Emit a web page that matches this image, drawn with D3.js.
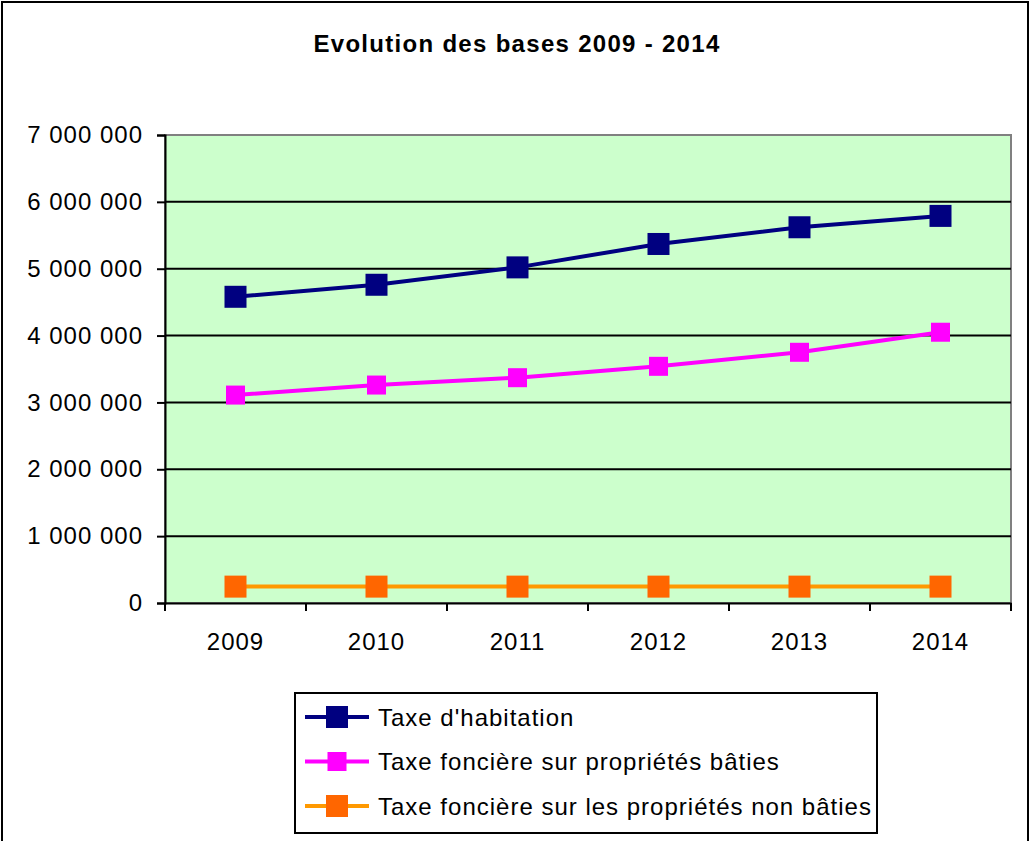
<!DOCTYPE html>
<html>
<head>
<meta charset="utf-8">
<script src="https://cdn.jsdelivr.net/npm/d3@7"></script>
<style>
  body { margin: 0; background: #fff; }
  text { font-family: Arial, "Liberation Sans", sans-serif; }
</style>
</head>
<body>
<div id="chart"></div>
<script>
var years = ["2009", "2010", "2011", "2012", "2013", "2014"];
var habitation = [4580000, 4760000, 5020000, 5370000, 5620000, 5790000];
var foncierBati = [3110000, 3260000, 3370000, 3540000, 3750000, 4050000];
var foncierNonBati = [245000, 245000, 245000, 245000, 245000, 245000];
var yTicks = [0, 1000000, 2000000, 3000000, 4000000, 5000000, 6000000, 7000000];
var seriesNames = ["Taxe d'habitation", "Taxe foncière sur propriétés bâties", "Taxe foncière sur les propriétés non bâties"];

var w = 1032, h = 841;
var plotLeft = 165, plotTop = 135, plotRight = 1011, plotBottom = 603;
var fontStack = "Arial, 'Liberation Sans', sans-serif";

var series = [
  { name: seriesNames[0], values: habitation, line: "#000080", marker: "#000080", size: 22 },
  { name: seriesNames[1], values: foncierBati, line: "#FF00FF", marker: "#FF00FF", size: 19 },
  { name: seriesNames[2], values: foncierNonBati, line: "#FF9900", marker: "#FF6600", size: 22 }
];

var svg = d3.select("#chart").append("svg")
  .attr("width", w)
  .attr("height", h);

// outer frame
svg.append("rect")
  .attr("x", 2).attr("y", 2)
  .attr("width", 1026).attr("height", 850)
  .attr("fill", "#fff").attr("stroke", "#000").attr("stroke-width", 2);

svg.append("text")
  .attr("x", 517).attr("y", 52)
  .attr("text-anchor", "middle")
  .attr("font-size", 24).attr("font-weight", "bold")
  .attr("letter-spacing", 1.3)
  .text("Evolution des bases 2009 - 2014");

var x = d3.scaleBand().domain(years).range([plotLeft, plotRight]);
var y = d3.scaleLinear().domain([0, 7000000]).range([plotBottom, plotTop]);

// plot background
svg.append("rect")
  .attr("x", plotLeft).attr("y", plotTop)
  .attr("width", plotRight - plotLeft).attr("height", plotBottom - plotTop)
  .attr("fill", "#CCFFCC").attr("stroke", "#808080").attr("stroke-width", 2);

// gridlines
svg.append("g")
  .selectAll("line")
  .data(yTicks.slice(1, -1))
  .enter().append("line")
    .attr("x1", plotLeft).attr("x2", plotRight)
    .attr("y1", function(d) { return y(d); })
    .attr("y2", function(d) { return y(d); })
    .attr("stroke", "#000").attr("stroke-width", 2);

// y axis
var fmt = function(d) { return d3.format(",")(d).replace(/,/g, " "); };
var yAxis = svg.append("g")
  .attr("transform", "translate(" + plotLeft + ",0)")
  .call(d3.axisLeft(y).tickValues(yTicks).tickFormat(fmt).tickSize(8).tickPadding(14));
yAxis.select(".domain").attr("stroke", "#000").attr("stroke-width", 2);
yAxis.selectAll(".tick line").attr("stroke", "#000").attr("stroke-width", 2);
yAxis.selectAll("text").attr("font-size", 24).attr("fill", "#000")
  .attr("letter-spacing", 1).attr("font-family", fontStack);

// x axis
var xAxis = svg.append("g")
  .attr("transform", "translate(0," + plotBottom + ")")
  .call(d3.axisBottom(x).tickSize(0).tickPadding(30));
xAxis.select(".domain").attr("stroke", "#000").attr("stroke-width", 2);
xAxis.selectAll("text").attr("font-size", 24).attr("fill", "#000")
  .attr("letter-spacing", 1).attr("font-family", fontStack);
// tick marks between categories
svg.append("g")
  .selectAll("line")
  .data(years.concat(["end"]))
  .enter().append("line")
    .attr("x1", function(d, i) { return plotLeft + i * x.step(); })
    .attr("x2", function(d, i) { return plotLeft + i * x.step(); })
    .attr("y1", plotBottom).attr("y2", plotBottom + 8)
    .attr("stroke", "#000").attr("stroke-width", 2);

// lines and markers
var line = d3.line()
  .x(function(d, i) { return x(years[i]) + x.bandwidth() / 2; })
  .y(function(d) { return y(d); });

series.forEach(function(s) {
  svg.append("path")
    .datum(s.values)
    .attr("d", line)
    .attr("fill", "none")
    .attr("stroke", s.line)
    .attr("stroke-width", 4);
  svg.append("g")
    .selectAll("rect")
    .data(s.values)
    .enter().append("rect")
      .attr("x", function(d, i) { return x(years[i]) + x.bandwidth() / 2 - s.size / 2; })
      .attr("y", function(d) { return y(d) - s.size / 2; })
      .attr("width", s.size).attr("height", s.size)
      .attr("fill", s.marker);
});

// legend
var legend = svg.append("g");
legend.append("rect")
  .attr("x", 295).attr("y", 693)
  .attr("width", 582).attr("height", 140)
  .attr("fill", "#fff").attr("stroke", "#000").attr("stroke-width", 2);

var items = legend.selectAll("g.item")
  .data(series)
  .enter().append("g")
    .attr("class", "item")
    .attr("transform", function(d, i) { return "translate(0," + (717 + i * 44.5) + ")"; });
items.append("line")
  .attr("x1", 305).attr("x2", 369)
  .attr("y1", 0).attr("y2", 0)
  .attr("stroke", function(d) { return d.line; })
  .attr("stroke-width", 4);
items.append("rect")
  .attr("x", function(d) { return 337 - d.size / 2; })
  .attr("y", function(d) { return -d.size / 2; })
  .attr("width", function(d) { return d.size; })
  .attr("height", function(d) { return d.size; })
  .attr("fill", function(d) { return d.marker; });
items.append("text")
  .attr("x", 378).attr("y", 8.5)
  .attr("font-size", 24)
  .attr("letter-spacing", 1)
  .text(function(d) { return d.name; });
</script>
</body>
</html>
